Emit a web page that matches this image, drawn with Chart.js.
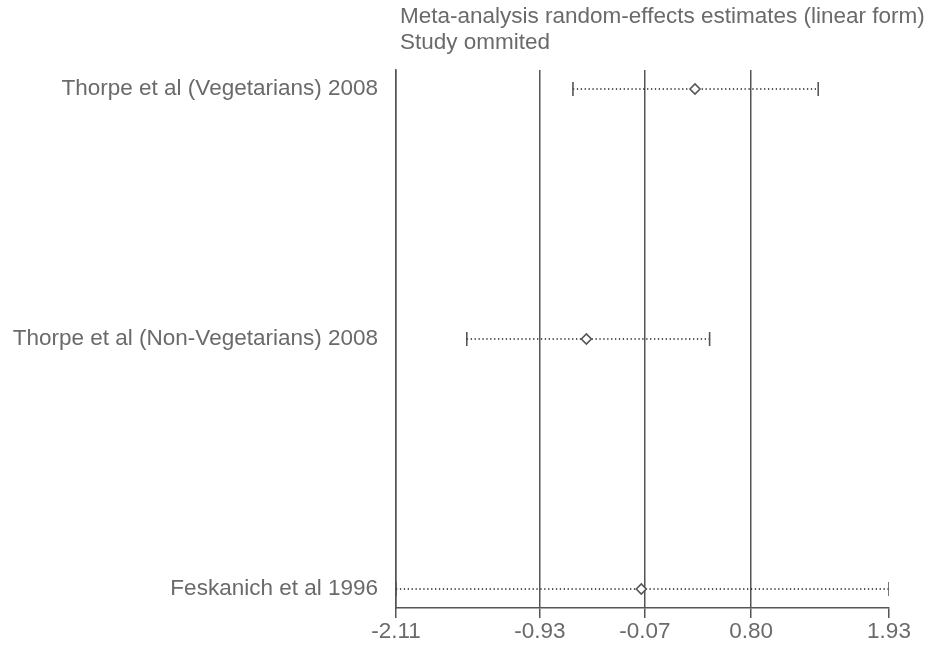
<!DOCTYPE html>
<html>
<head>
<meta charset="utf-8">
<script src="https://cdn.jsdelivr.net/npm/chart.js@4"></script>
<style>
html,body{margin:0;padding:0;background:#fff;}
#wrap{width:931px;height:645px;position:relative;}
</style>
</head>
<body>
<div id="wrap"><canvas id="c" width="931" height="645"></canvas></div>
<script>
const studies = ["Thorpe et al (Vegetarians) 2008", "Thorpe et al (Non-Vegetarians) 2008", "Feskanich et al 1996"];
const estimates = [0.34, -0.55, -0.10];
const lowerCI = [-0.66, -1.53, -2.11];
const upperCI = [1.35, 0.46, 1.93];
const xTicks = [-2.11, -0.93, -0.07, 0.80, 1.93];
const titleLines = ["Meta-analysis random-effects estimates (linear form)", "Study ommited"];

const LINE = '#555';
const TEXT = '#6a6a6a';
const FONT = '"Liberation Sans", Arial, sans-serif';
const FS = 22.5;

const datasets = [];
studies.forEach((s, i) => {
  datasets.push({
    type: 'line',
    data: [{x: lowerCI[i], y: i + 1}, {x: upperCI[i], y: i + 1}],
    borderColor: '#222', borderWidth: 1.5, borderDash: [1.3, 2.6],
    pointRadius: 0, order: 3
  });
});
datasets.push({
  type: 'scatter',
  data: studies.flatMap((s, i) => [{x: lowerCI[i], y: i + 1}, {x: upperCI[i], y: i + 1}]),
  pointStyle: 'line', rotation: 90, pointRadius: 7, borderColor: LINE, borderWidth: 1.6, order: 2
});
datasets.push({
  type: 'scatter',
  data: studies.map((s, i) => ({x: estimates[i], y: i + 1})),
  pointStyle: 'rectRot', pointRadius: 5, backgroundColor: '#fff', borderColor: LINE, borderWidth: 1.6, order: 1
});

const titlePlugin = {
  id: 'titleText',
  afterDraw(chart) {
    const ctx = chart.ctx;
    ctx.save();
    ctx.fillStyle = TEXT;
    ctx.font = FS + 'px ' + FONT;
    ctx.textBaseline = 'middle';
    ctx.textAlign = 'left';
    const x = chart.chartArea.left + 4;
    titleLines.forEach((t, k) => ctx.fillText(t, x, 17 + k * 26));
    ctx.restore();
  }
};

new Chart(document.getElementById('c'), {
  data: {datasets},
  options: {
    responsive: false, animation: false,
    layout: {padding: {top: 70, right: 42, left: 0, bottom: 0}},
    plugins: {legend: {display: false}, tooltip: {enabled: false}},
    scales: {
      x: {
        type: 'linear', min: xTicks[0], max: xTicks[xTicks.length - 1],
        afterBuildTicks: (sc) => { sc.ticks = xTicks.map(v => ({value: v})); },
        afterFit: (sc) => { sc.height = 37; },
        ticks: {
          callback: (v) => Number(v).toFixed(2),
          color: TEXT, font: {family: FONT, size: FS}, padding: 0, maxRotation: 0, autoSkip: false
        },
        grid: {
          color: (c) => (c.index === xTicks.length - 1 ? 'rgba(0,0,0,0)' : LINE),
          tickColor: LINE, tickLength: 10, lineWidth: 1.5
        },
        border: {display: true, color: LINE, width: 1.5}
      },
      y: {
        type: 'linear', reverse: true, min: 0.924, max: 3.076,
        afterBuildTicks: (sc) => { sc.ticks = studies.map((s, i) => ({value: i + 1})); },
        afterFit: (sc) => { sc.width = 396; },
        ticks: {
          callback: (v) => studies[Math.round(v) - 1] || '',
          color: TEXT, font: {family: FONT, size: FS}, padding: 18, autoSkip: false
        },
        grid: {display: false, drawTicks: false},
        border: {display: true, color: LINE, width: 1.5}
      }
    }
  },
  plugins: [titlePlugin]
});
</script>
</body>
</html>
